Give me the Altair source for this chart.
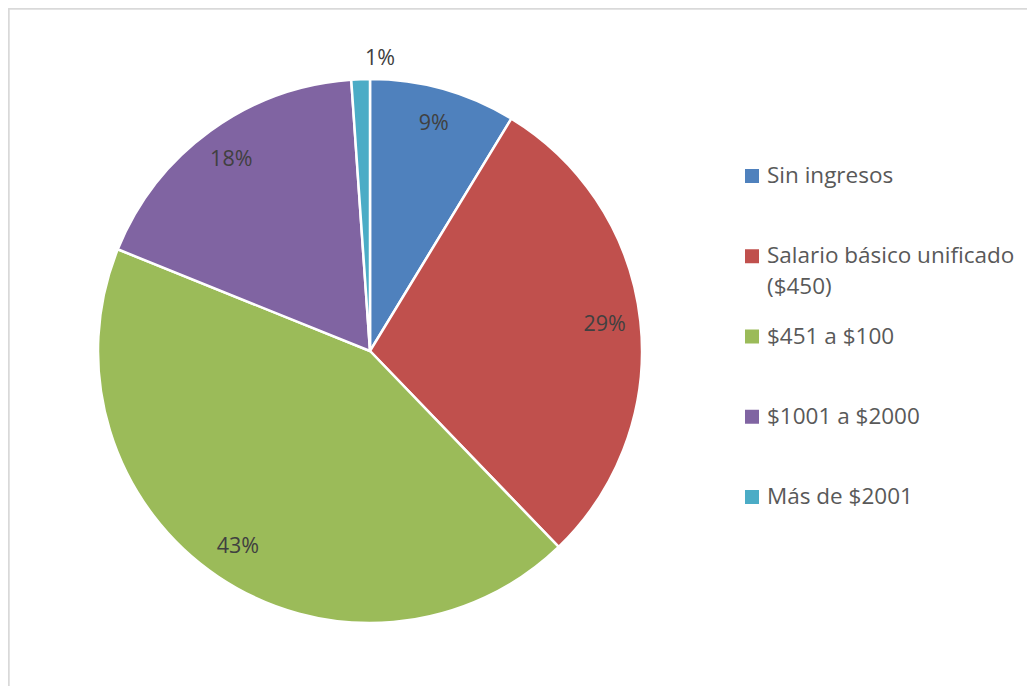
import altair as alt
import pandas as pd

categories = ["Sin ingresos", "Salario básico unificado\n($450)", "$451 a $100", "$1001 a $2000", "Más de $2001"]
values = [8.7, 29.1, 43.3, 17.8, 1.1]
colors = ["#4F81BD", "#C0504D", "#9BBB59", "#8064A2", "#4BACC6"]
order = [0, 1, 2, 3, 4]

df = pd.DataFrame({"cat": categories, "v": values, "idx": order})

W, H = 1019, 678
CX, CY, R = 362, 343, 272
FONT = "Open Sans"

color = alt.Color("cat:N", scale=alt.Scale(domain=categories, range=colors), legend=None)

base = alt.Chart(df)

arcs = base.mark_arc(outerRadius=R, stroke="white", strokeWidth=2.5).encode(
    theta=alt.Theta("v:Q", stack=True),
    order=alt.Order("idx:Q"),
    color=color,
    x=alt.value(CX),
    y=alt.value(CY),
)

labels = base.transform_calculate(
    lab="format(datum.v / 100, '.0%')",
    r="datum.v < 3 ? 292 : 236",
).mark_text(font=FONT, fontSize=21.5, color="#404040", align="center", baseline="middle").encode(
    theta=alt.Theta("v:Q", stack=True),
    order=alt.Order("idx:Q"),
    radius=alt.Radius("r:Q", scale=None),
    text="lab:N",
    x=alt.value(CX),
    y=alt.value(CY),
)

ly = alt.Y("cat:N", sort=categories, scale=alt.Scale(type="point", range=[168, 489], padding=0), axis=None)

leg_sq = base.mark_square(size=196, opacity=1).encode(
    y=ly,
    x=alt.value(744),
    color=color,
)

leg_tx = base.mark_text(font=FONT, fontSize=22.5, color="#595959", align="left", baseline="middle",
                        lineBreak="\n", lineHeight=31).encode(
    y=ly,
    x=alt.value(759),
    text="cat:N",
)

border_l = base.mark_rule(color="#d9d9d9", strokeWidth=1.5).encode(
    x=alt.value(0.5), y=alt.value(0.5), y2=alt.value(H + 20)
)
border_t = base.mark_rule(color="#d9d9d9", strokeWidth=1.5).encode(
    y=alt.value(0.5), x=alt.value(0.5), x2=alt.value(W + 20)
)

chart = alt.layer(arcs, labels, leg_sq, leg_tx, border_l, border_t).properties(
    width=W, height=H, autosize=alt.AutoSizeParams(type="none"), padding=0
).configure_view(stroke=None)

chart.save("out.html", embed_options={"renderer": "svg", "actions": False})
